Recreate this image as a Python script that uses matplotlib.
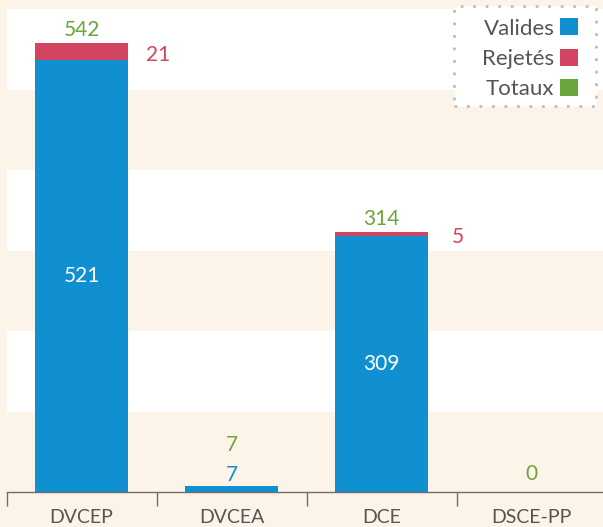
import matplotlib.pyplot as plt
from matplotlib.patches import Patch, Rectangle

categories = ['DVCEP', 'DVCEA', 'DCE', 'DSCE-PP']
valides = [521, 7, 309, 0]
rejetes = [21, 0, 5, 0]
totaux = [542, 7, 314, 0]

BLUE = '#1190d1'
RED = '#d2445f'
GREEN = '#6aa63a'
PEACH = '#fdf4e9'
GREY = '#555555'

plt.rcParams['font.family'] = ['Lato', 'DejaVu Sans']

W, H = 603, 527
fig = plt.figure(figsize=(W / 100, H / 100), dpi=100, facecolor=PEACH)
# plot area: x 6.5 -> 606.5 px, y 9 -> 492 px
ax = fig.add_axes([6.5 / W, (H - 492) / H, 600 / W, 483 / H])
ax.set_facecolor(PEACH)

ytop = 583
ax.set_ylim(0, ytop)
ax.set_xlim(-0.5, len(categories) - 0.5)

# alternating background bands
for k in range(6):
    if k % 2 == 1:
        ax.axhspan(ytop * k / 6, ytop * (k + 1) / 6, color='white', lw=0, zorder=0)

x = range(len(categories))
bw = 0.62
ax.bar(x, valides, bw, color=BLUE, zorder=2, edgecolor='none')
ax.bar(x, rejetes, bw, bottom=valides, color=RED, zorder=2, edgecolor='none')

px = 72 / 100  # points per pixel
for i in x:
    v, r, t = valides[i], rejetes[i], totaux[i]
    off = 13
    if v >= 30:
        ax.text(i, v / 2, str(v), color='white', fontsize=15, ha='center', va='center', zorder=3)
    elif v > 0:
        ax.annotate(str(v), (i, v), xytext=(0, 11 * px), textcoords='offset points',
                    color=BLUE, fontsize=15, ha='center', va='center')
        off = 41
    else:
        off = 18
    if r > 0:
        ax.annotate(str(r), (i + 0.51, v + r / 2), xytext=(0, -3 * px), textcoords='offset points',
                    color=RED, fontsize=15, ha='center', va='center')
    ax.annotate(str(t), (i, t), xytext=(0, off * px), textcoords='offset points',
                color=GREEN, fontsize=15, ha='center', va='center')

for s in ['top', 'right', 'left']:
    ax.spines[s].set_visible(False)
ax.spines['bottom'].set_color('#6e6e6e')
ax.spines['bottom'].set_linewidth(1)
ax.set_yticks([])
ax.set_xticks([i - 0.5 for i in range(len(categories))], minor=False)
ax.set_xticklabels([])
ax.tick_params(axis='x', which='major', length=14 * px, color='#6e6e6e', width=1)
ax.set_xticks(list(x), minor=True)
ax.set_xticklabels(categories, minor=True, fontsize=14, color=GREY)
ax.tick_params(axis='x', which='minor', length=0, pad=12)

# legend box (dotted frame drawn separately, legend itself frameless)
box = Rectangle((454 / W, 1 - 106 / H), 142 / W, 100 / H, transform=fig.transFigure,
                facecolor='white', edgecolor='#bdbdbd', lw=2, linestyle=(0, (1, 3.5)),
                zorder=5)
fig.patches.append(box)

handles = [Patch(facecolor=BLUE, label='Valides'),
           Patch(facecolor=RED, label='Rejetés'),
           Patch(facecolor=GREEN, label='Totaux')]
leg = fig.legend(handles=handles, loc='upper right', bbox_to_anchor=(591 / W, 1 - 5 / H),
                 markerfirst=False, fontsize=16, handlelength=0.8, handleheight=0.8,
                 handletextpad=0.25, labelspacing=0.45, borderpad=0.1, frameon=False)
leg.set_zorder(6)
for t in leg.get_texts():
    t.set_color(GREY)

fig.savefig('out.png', dpi=100, facecolor=PEACH)
